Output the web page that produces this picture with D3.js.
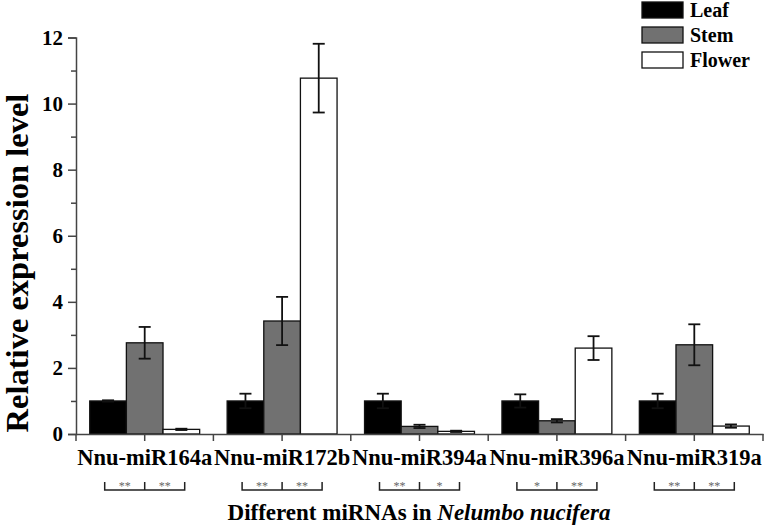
<!DOCTYPE html>
<html><head><meta charset="utf-8">
<script src="https://cdn.jsdelivr.net/npm/d3@7"></script>
<style>
body{margin:0;background:#fff;}
svg text{font-family:"Liberation Serif","Times New Roman",serif;font-weight:bold;}
</style></head>
<body><svg id="c" width="766" height="526"></svg>
<script>
const categories = ["Nnu-miR164a","Nnu-miR172b","Nnu-miR394a","Nnu-miR396a","Nnu-miR319a"];
const series = ["Leaf","Stem","Flower"];
const leafValues   = [1.0, 1.0, 1.0, 1.0, 1.0];
const leafErrors   = [0.02, 0.22, 0.22, 0.2, 0.22];
const stemValues   = [2.76, 3.42, 0.23, 0.4, 2.7];
const stemErrors   = [0.48, 0.73, 0.05, 0.05, 0.62];
const flowerValues = [0.14, 10.77, 0.08, 2.6, 0.24];
const flowerErrors = [0.02, 1.04, 0.02, 0.36, 0.05];
const sigLeft  = ["**","**","**","*","**"];
const sigRight = ["**","**","*","**","**"];
const yTicks = [0,2,4,6,8,10,12];
const yMinorTicks = [1,3,5,7,9,11];

const colors = {Leaf:"#000000", Stem:"#717171", Flower:"#ffffff"};
const values = {Leaf:leafValues, Stem:stemValues, Flower:flowerValues};
const errors = {Leaf:leafErrors, Stem:stemErrors, Flower:flowerErrors};

const svg = d3.select("#c");
const x = d3.scaleBand().domain(categories).range([76,763]).paddingInner(0).paddingOuter(0);
const bw = x.bandwidth();
const xs = d3.scaleBand().domain(series).range([0.1*bw, 0.9*bw]).padding(0);
const y = d3.scaleLinear().domain([0,12]).range([434,37.5]);

const data = [];
categories.forEach((c,i)=>series.forEach(s=>data.push({c, s, v:values[s][i], e:errors[s][i]})));

// bars
svg.append("g").selectAll("rect").data(data).join("rect")
  .attr("x", d=>x(d.c)+xs(d.s))
  .attr("y", d=>y(d.v))
  .attr("width", xs.bandwidth())
  .attr("height", d=>y(0)-y(d.v))
  .attr("fill", d=>colors[d.s])
  .attr("stroke", "#111")
  .attr("stroke-width", 1.3);

// error bars
const eg = svg.append("g").attr("stroke","#111").attr("stroke-width",1.8);
data.forEach(d=>{
  const cx = x(d.c)+xs(d.s)+xs.bandwidth()/2;
  eg.append("line").attr("x1",cx).attr("x2",cx).attr("y1",y(d.v+d.e)).attr("y2",y(d.v-d.e));
  [d.v+d.e, d.v-d.e].forEach(v=>eg.append("line").attr("x1",cx-6).attr("x2",cx+6).attr("y1",y(v)).attr("y2",y(v)));
});

// y axis
const yAxis = svg.append("g").attr("transform","translate(76,0)")
  .call(d3.axisLeft(y).tickValues(yTicks).tickSize(8).tickPadding(5).tickFormat(d3.format("d")));
yAxis.selectAll("text").attr("font-size",21).attr("fill","#000")
  .style("font-family","'Liberation Serif',serif").style("font-weight","bold");
const yMinor = svg.append("g").attr("transform","translate(76,0)")
  .call(d3.axisLeft(y).tickValues(yMinorTicks).tickSize(5).tickFormat(""));
yMinor.select(".domain").remove();
svg.selectAll(".domain").attr("stroke","#444").attr("stroke-width",1.5);
svg.selectAll(".tick line").attr("stroke","#444").attr("stroke-width",1.5);

// x axis
const xAxis = svg.append("g").attr("transform","translate(0,434)")
  .call(d3.axisBottom(x).tickSize(7).tickPadding(8).tickSizeOuter(0));
xAxis.selectAll("text").attr("font-size",22.5).attr("fill","#000")
  .style("font-family","'Liberation Serif',serif").style("font-weight","bold");
xAxis.select(".domain").attr("stroke","#444").attr("stroke-width",1.5);
xAxis.selectAll(".tick line").attr("stroke","#444").attr("stroke-width",1.5);
const bounds = categories.map(c=>x(c)).concat([x(categories[categories.length-1])+bw]);
xAxis.selectAll("line.bound").data(bounds).join("line").attr("class","bound")
  .attr("x1",d=>d).attr("x2",d=>d).attr("y1",0).attr("y2",7)
  .attr("stroke","#444").attr("stroke-width",1.5);

// significance brackets
const bg = svg.append("g");
categories.forEach((c,i)=>{
  const cx = x(c)+bw/2;
  const l = cx-40, r = cx+40, yb = 490, yt = 482;
  bg.append("path").attr("d",`M${l},${yt}V${yb}H${r}V${yt}M${cx},${yt}V${yb}`)
    .attr("fill","none").attr("stroke","#222").attr("stroke-width",1.5);
  bg.append("text").attr("x",(l+cx)/2).attr("y",490).attr("text-anchor","middle")
    .attr("font-size",12).attr("fill","#666").style("font-weight","normal").text(sigLeft[i]);
  bg.append("text").attr("x",(cx+r)/2).attr("y",490).attr("text-anchor","middle")
    .attr("font-size",12).attr("fill","#666").style("font-weight","normal").text(sigRight[i]);
});

// axis titles
svg.append("text").attr("transform","translate(28,263) rotate(-90)").attr("text-anchor","middle")
  .attr("font-size",32.5).attr("fill","#000").text("Relative expression level");
const xt = svg.append("text").attr("x",419).attr("y",520).attr("text-anchor","middle")
  .attr("font-size",23).attr("fill","#000");
xt.append("tspan").text("Different miRNAs in ");
xt.append("tspan").attr("font-style","italic").text("Nelumbo nucifera");

// legend
const lg = svg.append("g");
series.forEach((s,i)=>{
  lg.append("rect").attr("x",642).attr("y",2+i*25).attr("width",41).attr("height",16)
    .attr("fill",colors[s]).attr("stroke","#111").attr("stroke-width",1.3);
  lg.append("text").attr("x",690).attr("y",17+i*25).attr("font-size",20).attr("fill","#000").text(s);
});
</script></body></html>
